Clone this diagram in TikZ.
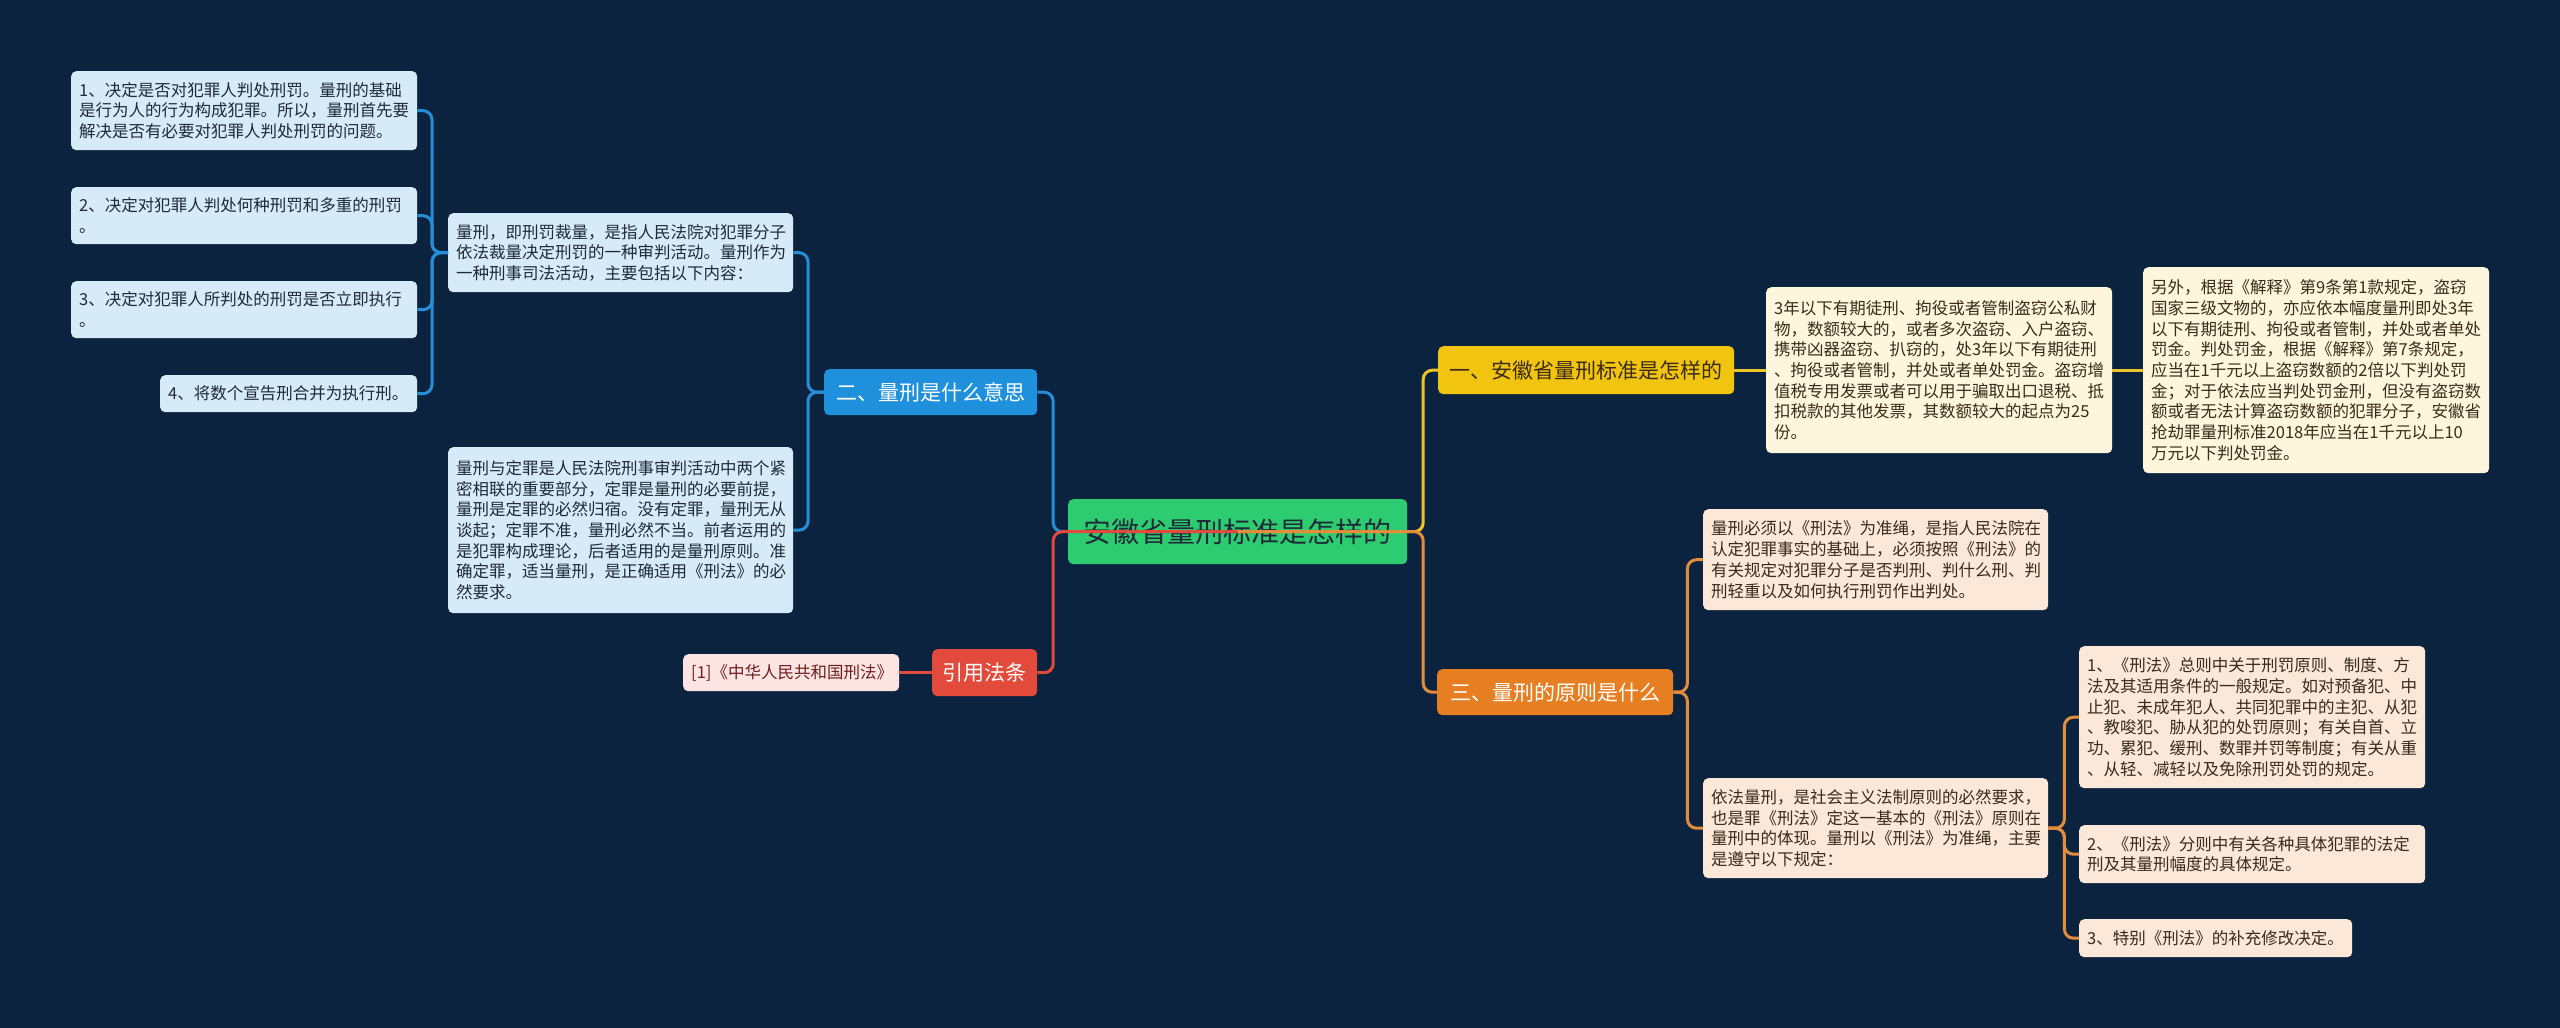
\documentclass[tikz,border=0pt]{standalone}
\usepackage{fontspec}
\setmainfont{Noto Sans CJK SC}
\usetikzlibrary{calc}
\definecolor{bg}{RGB}{12,35,64}
\definecolor{cgreen}{RGB}{46,204,113}
\definecolor{cblue}{RGB}{30,144,220}
\definecolor{cblueline}{RGB}{38,142,214}
\definecolor{cbluelf}{RGB}{214,235,247}
\definecolor{cyellow}{RGB}{241,196,15}
\definecolor{cyellowline}{RGB}{236,196,40}
\definecolor{cyellowlf}{RGB}{253,246,220}
\definecolor{corange}{RGB}{230,126,34}
\definecolor{corangeline}{RGB}{226,140,60}
\definecolor{corangelf}{RGB}{251,232,216}
\definecolor{cred}{RGB}{226,74,60}
\definecolor{credlf}{RGB}{252,228,226}
\definecolor{tdark}{RGB}{30,42,56}
\definecolor{tbrown}{RGB}{58,44,24}
\definecolor{tred}{RGB}{110,30,30}
\tikzset{
  box/.style={rounded corners=5pt, anchor=north west, inner xsep=8pt, inner ysep=2pt, align=left},
  leaf/.style={box, font=\fontsize{16.5}{20.7}\selectfont},
  bleaf/.style={leaf, fill=cbluelf, text=tdark},
  yleaf/.style={leaf, fill=cyellowlf, text=tbrown},
  oleaf/.style={leaf, fill=corangelf, text=tbrown},
  rleaf/.style={leaf, fill=credlf, text=tred, align=center},
  topic/.style={box, align=center, inner xsep=4pt, font=\fontsize{21}{25}\selectfont},
  ln/.style={line width=3pt, rounded corners=9pt},
}
\begin{document}
\begin{tikzpicture}[x=1pt,y=-1pt]
\fill[bg] (0,0) rectangle (2560,1028);
\useasboundingbox (0,0) rectangle (2560,1028);

% left blue subtree
\node[bleaf, minimum width=346, minimum height=79, text width=330] (l1) at (71,71)
 {1、决定是否对犯罪人判处刑罚。量刑的基础\\是行为人的行为构成犯罪。所以，量刑首先要\\解决是否有必要对犯罪人判处刑罚的问题。};
\node[bleaf, minimum width=346, minimum height=57, text width=330] (l2) at (71,187)
 {2、决定对犯罪人判处何种刑罚和多重的刑罚\\。};
\node[bleaf, minimum width=346, minimum height=57, text width=330] (l3) at (71,281)
 {3、决定对犯罪人所判处的刑罚是否立即执行\\。};
\node[bleaf, minimum width=257, minimum height=37, text width=241] (l4) at (160,375)
 {4、将数个宣告刑合并为执行刑。};
\node[bleaf, minimum width=345, minimum height=79, text width=329] (pa) at (448,213)
 {量刑，即刑罚裁量，是指人民法院对犯罪分子\\依法裁量决定刑罚的一种审判活动。量刑作为\\一种刑事司法活动，主要包括以下内容：};
\node[bleaf, minimum width=345, minimum height=166, text width=329] (pb) at (448,447)
 {量刑与定罪是人民法院刑事审判活动中两个紧\\密相联的重要部分，定罪是量刑的必要前提，\\量刑是定罪的必然归宿。没有定罪，量刑无从\\谈起；定罪不准，量刑必然不当。前者运用的\\是犯罪构成理论，后者适用的是量刑原则。准\\确定罪，适当量刑，是正确适用《刑法》的必\\然要求。};
\node[topic, fill=cblue, text=white, minimum width=213, minimum height=46] (er) at (824,369) {二、量刑是什么意思};

% red subtree
\node[topic, fill=cred, text=white, minimum width=105, minimum height=47] (yy) at (932,649) {引用法条};
\node[rleaf, minimum width=216, minimum height=37, text width=200] (ref) at (683,654) {[1]《中华人民共和国刑法》};

% yellow subtree
\node[topic, fill=cyellow, text=tbrown, minimum width=296, minimum height=48] (yi) at (1438,346) {一、安徽省量刑标准是怎样的};
\node[yleaf, minimum width=346, minimum height=166, text width=330] (y1) at (1766,287)
 {3年以下有期徒刑、拘役或者管制盗窃公私财\\物，数额较大的，或者多次盗窃、入户盗窃、\\携带凶器盗窃、扒窃的，处3年以下有期徒刑\\、拘役或者管制，并处或者单处罚金。盗窃增\\值税专用发票或者可以用于骗取出口退税、抵\\扣税款的其他发票，其数额较大的起点为25\\份。};
\node[yleaf, minimum width=346, minimum height=206, text width=330] (y2) at (2143,267)
 {另外，根据《解释》第9条第1款规定，盗窃\\国家三级文物的，亦应依本幅度量刑即处3年\\以下有期徒刑、拘役或者管制，并处或者单处\\罚金。判处罚金，根据《解释》第7条规定，\\应当在1千元以上盗窃数额的2倍以下判处罚\\金；对于依法应当判处罚金刑，但没有盗窃数\\额或者无法计算盗窃数额的犯罪分子，安徽省\\抢劫罪量刑标准2018年应当在1千元以上10\\万元以下判处罚金。};

% orange subtree
\node[topic, fill=corange, text=white, minimum width=236, minimum height=46] (san) at (1437,669) {三、量刑的原则是什么};
\node[oleaf, minimum width=345, minimum height=101, text width=329] (o1) at (1703,509)
 {量刑必须以《刑法》为准绳，是指人民法院在\\认定犯罪事实的基础上，必须按照《刑法》的\\有关规定对犯罪分子是否判刑、判什么刑、判\\刑轻重以及如何执行刑罚作出判处。};
\node[oleaf, minimum width=345, minimum height=100, text width=329] (o2) at (1703,778)
 {依法量刑，是社会主义法制原则的必然要求，\\也是罪《刑法》定这一基本的《刑法》原则在\\量刑中的体现。量刑以《刑法》为准绳，主要\\是遵守以下规定：};
\node[oleaf, minimum width=346, minimum height=142, text width=330] (o3) at (2079,646)
 {1、《刑法》总则中关于刑罚原则、制度、方\\法及其适用条件的一般规定。如对预备犯、中\\止犯、未成年犯人、共同犯罪中的主犯、从犯\\、教唆犯、胁从犯的处罚原则；有关自首、立\\功、累犯、缓刑、数罪并罚等制度；有关从重\\、从轻、减轻以及免除刑罚处罚的规定。};
\node[oleaf, minimum width=346, minimum height=58, text width=330] (o4) at (2079,825)
 {2、《刑法》分则中有关各种具体犯罪的法定\\刑及其量刑幅度的具体规定。};
\node[oleaf, minimum width=273, minimum height=38, text width=257] (o5) at (2079,919)
 {3、特别《刑法》的补充修改决定。};

% root
\node[box, fill=cgreen, text=tdark, align=center, minimum width=339, minimum height=65, font=\fontsize{28}{32}\selectfont] (root) at (1068,499) {安徽省量刑标准是怎样的};

% connectors
\draw[ln, cblueline] (pa.west) -- ++(-16,0) |- (l1.east);
\draw[ln, cblueline] (pa.west) -- ++(-16,0) |- (l2.east);
\draw[ln, cblueline] (pa.west) -- ++(-16,0) |- (l3.east);
\draw[ln, cblueline] (pa.west) -- ++(-16,0) |- (l4.east);
\draw[ln, cblueline] (er.west) -- ++(-16,0) |- (pa.east);
\draw[ln, cblueline] (er.west) -- ++(-16,0) |- (pb.east);
\draw[ln, cred] (yy.west) -- (ref.east);
\draw[ln, cyellowline] (yi.east) -- (y1.west);
\draw[ln, cyellowline] (y1.east) -- (y2.west);
\draw[ln, corangeline] (san.east) -- ++(14,0) |- (o1.west);
\draw[ln, corangeline] (san.east) -- ++(14,0) |- (o2.west);
\draw[ln, corangeline] (o2.east) -- ++(16,0) |- (o3.west);
\draw[ln, corangeline] (o2.east) -- ++(16,0) |- (o4.west);
\draw[ln, corangeline] (o2.east) -- ++(16,0) |- (o5.west);
\draw[ln, cblueline] (root.center) -- ++(-184.5,0) |- (er.east);
\draw[ln, cyellowline] (root.center) -- ++(185.5,0) |- (yi.west);
\draw[ln, cred] (root.center) -- ++(-184.5,0) |- (yy.east);
\draw[ln, corangeline] (root.center) -- ++(185.5,0) |- (san.west);
\end{tikzpicture}
\end{document}
